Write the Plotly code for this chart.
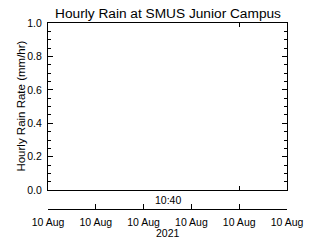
import plotly.graph_objects as go

title = "Hourly Rain at SMUS Junior Campus"
y_title = "Hourly Rain Rate (mm/hr)"
time_label = "10:40"
year_label = "2021"
date_ticks = [0, 1, 2, 3, 4, 5]
date_labels = ["10 Aug"] * 6
box_ticks = [0.8]
rain_times = []
rain_values = []

FONT = "Liberation Sans"

fig = go.Figure()
fig.add_trace(go.Scatter(x=rain_times, y=rain_values, mode="lines",
                         line=dict(color="black", width=1), showlegend=False))
fig.add_trace(go.Scatter(x=[], y=[], xaxis="x2", yaxis="y", showlegend=False))

fig.update_layout(
    width=320, height=240,
    margin=dict(l=48, r=33, t=23, b=29),
    paper_bgcolor="white", plot_bgcolor="white",
    font=dict(family=FONT, size=10, color="black"),
    showlegend=False,
    title=dict(text=title, x=168 / 320, xref="container",
               xanchor="center", y=1 - 13 / 240, yanchor="middle",
               font=dict(family=FONT, size=13.7, color="black")),
    xaxis=dict(range=[0, 1], domain=[0, 1], showline=True, linecolor="black", linewidth=1,
               mirror="ticks", ticks="inside", ticklen=4, tickcolor="black",
               tickvals=box_ticks, showticklabels=False, showgrid=False, zeroline=False),
    yaxis=dict(range=[0, 1], domain=[(211 - 192) / 188, 1], showline=True, linecolor="black",
               linewidth=1, mirror="ticks", ticks="inside", ticklen=5, tickcolor="black",
               tickvals=[0, 0.2, 0.4, 0.6, 0.8, 1.0], tickformat=".1f",
               minor=dict(ticks="inside", ticklen=3, dtick=0.05, tickcolor="black", showgrid=False),
               showgrid=False, zeroline=False, tickfont=dict(size=10.5),
               ticklabelstandoff=3),
    xaxis2=dict(overlaying="x", anchor="free", position=0, side="bottom",
                range=[0, 5], tickvals=date_ticks, ticktext=date_labels,
                showline=True, linecolor="black", linewidth=1, ticks="inside",
                ticklen=5, tickcolor="black", showgrid=False, zeroline=False,
                tickfont=dict(size=10.5), ticklabelstandoff=3),
    annotations=[
        dict(text=time_label, x=0.5, y=(211 - 202) / 188, xref="paper", yref="paper",
             showarrow=False, xanchor="center", yanchor="middle", font=dict(size=10.5)),
        dict(text=year_label, x=0.5, y=(211 - 235.5) / 188, xref="paper", yref="paper",
             showarrow=False, xanchor="center", yanchor="middle", font=dict(size=10.5)),
        dict(text=y_title, x=(21 - 48) / 239, y=0.5 * (1 + (211 - 192) / 188), xref="paper",
             yref="paper", showarrow=False, xanchor="center", yanchor="middle",
             textangle=-90, font=dict(size=11.5)),
    ],
)

fig.write_html("out.html")
